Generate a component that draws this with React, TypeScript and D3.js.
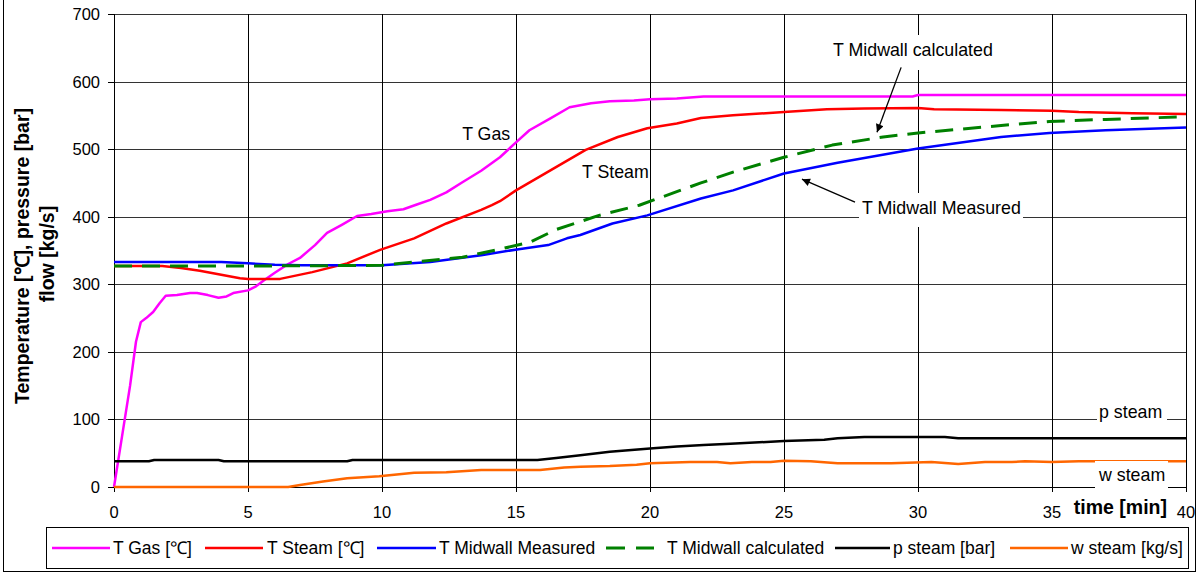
import React from 'react'
import * as d3 from 'd3'

// time [min] / value pairs
const gasT = [0, 0.3, 0.6, 0.82, 1.0, 1.2, 1.46, 1.7, 1.93, 2.35, 2.84, 3.1, 3.5, 3.9, 4.2, 4.45, 5.0, 5.3, 5.6, 6.0, 6.5, 6.94, 7.5, 7.95, 8.5, 9.07, 9.6, 10.2, 10.8, 11.3, 11.8, 12.4, 13.0, 13.7, 14.4, 15.0, 15.5, 16.3, 17.0, 17.8, 18.5, 19.4, 20, 21, 22, 25, 28, 29.8, 30, 35, 40]
const gasV = [0, 75, 150, 215, 244, 250, 259, 272, 283, 284, 287, 287, 284, 280, 282, 287, 291, 297, 306, 317, 330, 339, 358, 376, 388, 401, 404, 408, 411, 418, 425, 436, 451, 468, 488, 510, 528, 546, 562, 568, 571, 572, 574, 575, 578, 578, 578, 578, 580, 580, 580]

const steamT = [0, 1.8, 2.5, 3.2, 4, 4.7, 5, 6, 6.2, 7.4, 8.7, 9.93, 11.2, 12.4, 13.7, 14.1, 14.4, 15, 16.3, 17.6, 18.8, 19.9, 21, 21.9, 23.1, 25, 26.6, 28, 30, 30.6, 33.1, 35, 36, 38, 40]
const steamV = [327, 327, 324, 320, 314, 309, 308, 308, 308, 318, 331, 351, 368, 390, 410, 417, 423, 439, 469, 499, 518, 531, 538, 546, 550, 555, 559, 560, 561, 559, 558, 557, 555, 553, 552]

const measT = [0, 4, 5, 6, 7, 10, 11.8, 13.7, 15.1, 16.2, 16.9, 17.4, 18.6, 19.9, 21.9, 23.1, 25, 27, 30, 33.1, 34.9, 37, 40]
const measV = [333, 333, 331, 329, 328, 328, 333, 343, 352, 358, 368, 373, 390, 402, 427, 439, 464, 480, 501, 518, 524, 528, 532]

const calcT = [0, 5, 10, 11.2, 13.0, 14.4, 15.5, 16.5, 18.1, 19.6, 21.9, 23.1, 25, 26.8, 28.7, 30, 33.1, 34.9, 37, 40]
const calcV = [327, 327, 328, 333, 340, 352, 362, 381, 402, 417, 450, 466, 488, 506, 518, 524, 535, 541, 544, 548]

const pT = [0, 1.3, 1.5, 3.9, 4.1, 8.7, 8.9, 15.8, 16.5, 17.4, 18.5, 20, 21, 22, 23, 25, 26.5, 27, 28, 31, 31.5, 40]
const pV = [38, 38, 40, 40, 38, 38, 40, 40, 43, 47, 52, 57, 60, 62, 64, 68, 70, 72, 74, 74, 72, 72]

const wT = [0, 6.5, 6.94, 7.8, 8.7, 9.9, 11.2, 12.4, 13.7, 15.9, 16.8, 17.4, 18.5, 19.5, 20, 21.5, 22.5, 23, 23.8, 24.5, 25, 26, 27, 29, 30.5, 31.5, 32.5, 33.5, 34, 35, 36, 40]
const wV = [0, 0, 3, 8, 13, 16, 21, 22, 25, 25, 29, 30, 31, 33, 35, 37, 37, 35, 37, 37, 39, 38, 35, 35, 37, 34, 37, 37, 38, 37, 38, 38]

const xTicks = [0, 5, 10, 15, 20, 25, 30, 35, 40]
const yTicks = [0, 100, 200, 300, 400, 500, 600, 700]

const legendNames = ['T Gas [℃]', 'T Steam [℃]', 'T Midwall Measured', 'T Midwall calculated', 'p steam [bar]', 'w steam [kg/s]']

const font = 'Arial, "Liberation Sans", Helvetica, sans-serif'

const App = () => {
	const W = 1197
	const H = 573
	const x = d3.scaleLinear().domain([0, 40]).range([114, 1186])
	const y = d3.scaleLinear().domain([0, 700]).range([487, 14])

	const series = [
		{ t: gasT, v: gasV, color: '#FF00FF', dash: undefined },
		{ t: steamT, v: steamV, color: '#FF0000', dash: undefined },
		{ t: measT, v: measV, color: '#0000FF', dash: undefined },
		{ t: calcT, v: calcV, color: '#008000', dash: '18 10' },
		{ t: pT, v: pV, color: '#000000', dash: undefined },
		{ t: wT, v: wV, color: '#FF6600', dash: undefined }
	]
	// legend: line start, line end, text start
	const legendPos = [
		[52, 110, 113],
		[205, 263, 267],
		[377, 436, 439],
		[606, 654, 667],
		[835, 890, 893],
		[1010, 1068, 1071]
	]

	const line = d3
		.line<[number, number]>()
		.x((d) => x(d[0]))
		.y((d) => y(d[1]))

	return (
		<svg width={W} height={H} style={{ position: 'absolute', left: 0, top: 0, background: '#fff' }} fontFamily={font}>
			<defs>
				<marker id="arr" viewBox="0 0 10 10" refX="10" refY="5" markerWidth="10" markerHeight="8" orient="auto" markerUnits="userSpaceOnUse">
					<path d="M0,0 L10,5 L0,10 z" fill="#000" />
				</marker>
			</defs>
			<rect x={3.5} y={-1} width={1192} height={572.5} fill="#fff" stroke="#000" strokeWidth={1} />

			{/* grid */}
			{yTicks.map((t) => (
				<line key={'gy' + t} x1={114} x2={1186} y1={Math.round(y(t)) + 0.5} y2={Math.round(y(t)) + 0.5} stroke="#333" strokeWidth={1} />
			))}
			{xTicks.map((t) => (
				<line key={'gx' + t} x1={Math.round(x(t)) + 0.5} x2={Math.round(x(t)) + 0.5} y1={14} y2={492} stroke="#000" strokeWidth={1} />
			))}
			{yTicks.map((t) => (
				<line key={'ty' + t} x1={108} x2={114} y1={Math.round(y(t)) + 0.5} y2={Math.round(y(t)) + 0.5} stroke="#000" />
			))}
			<line x1={114} x2={1186} y1={487.5} y2={487.5} stroke="#000" />

			{/* lines */}
			{series.map((s, i) => (
				<path
					key={i}
					d={line(s.t.map((t, j) => [t, s.v[j]] as [number, number])) || ''}
					fill="none"
					stroke={s.color}
					strokeWidth={s.dash ? 3 : 2.5}
					strokeDasharray={s.dash}
					strokeLinejoin="round"
				/>
			))}

			{/* tick labels */}
			{yTicks.map((t) => (
				<text key={'ly' + t} x={100} y={y(t) + 6} textAnchor="end" fontSize={16.5} fill="#000">
					{t}
				</text>
			))}
			{xTicks.map((t) => (
				<text key={'lx' + t} x={x(t)} y={518} textAnchor="middle" fontSize={16.5} fill="#000">
					{t}
				</text>
			))}
			<text x={1167} y={514} textAnchor="end" fontSize={19.5} fontWeight="bold">
				time [min]
			</text>
			<g fontSize={19.5} fontWeight="bold" textAnchor="middle">
				<text transform="translate(29,256) rotate(-90)">Temperature [℃], pressure [bar]</text>
				<text transform="translate(54,254) rotate(-90)">flow [kg/s]</text>
			</g>

			{/* annotations */}
			<text x={x(12.99)} y={y(513)} fontSize={17.8}>T Gas</text>
			<text x={x(17.46)} y={y(457)} fontSize={17.8}>T Steam</text>
			<rect x={828} y={35} width={170} height={35} fill="#fff" />
			<text x={833} y={56} fontSize={17.8}>T Midwall calculated</text>
			<line x1={x(29.37)} y1={y(621)} x2={x(28.47)} y2={y(525)} stroke="#000" strokeWidth={1.3} markerEnd="url(#arr)" />
			<rect x={859} y={193} width={164} height={34} fill="#fff" />
			<text x={862} y={214} fontSize={17.8}>T Midwall Measured</text>
			<line x1={x(27.65)} y1={y(421.6)} x2={x(25.67)} y2={y(455.6)} stroke="#000" strokeWidth={1.3} markerEnd="url(#arr)" />
			<rect x={1097} y={403} width={70} height={24} fill="#fff" />
			<text x={1099} y={418} fontSize={17.8}>p steam</text>
			<rect x={1095} y={461} width={73} height={29} fill="#fff" />
			<text x={1099} y={481} fontSize={17.8}>w steam</text>

			{/* legend */}
			<rect x={46.5} y={527.5} width={1142} height={41} fill="#fff" stroke="#000" strokeWidth={1} />
			{series.map((s, i) => (
				<g key={'lg' + i}>
					<line
						x1={legendPos[i][0]}
						x2={legendPos[i][1]}
						y1={548}
						y2={548}
						stroke={s.color}
						strokeWidth={s.dash ? 3 : 2.5}
						strokeDasharray={s.dash ? '19 11' : undefined}
					/>
					<text x={legendPos[i][2]} y={554} fontSize={17.5}>
						{legendNames[i]}
					</text>
				</g>
			))}
		</svg>
	)
}

export default App
